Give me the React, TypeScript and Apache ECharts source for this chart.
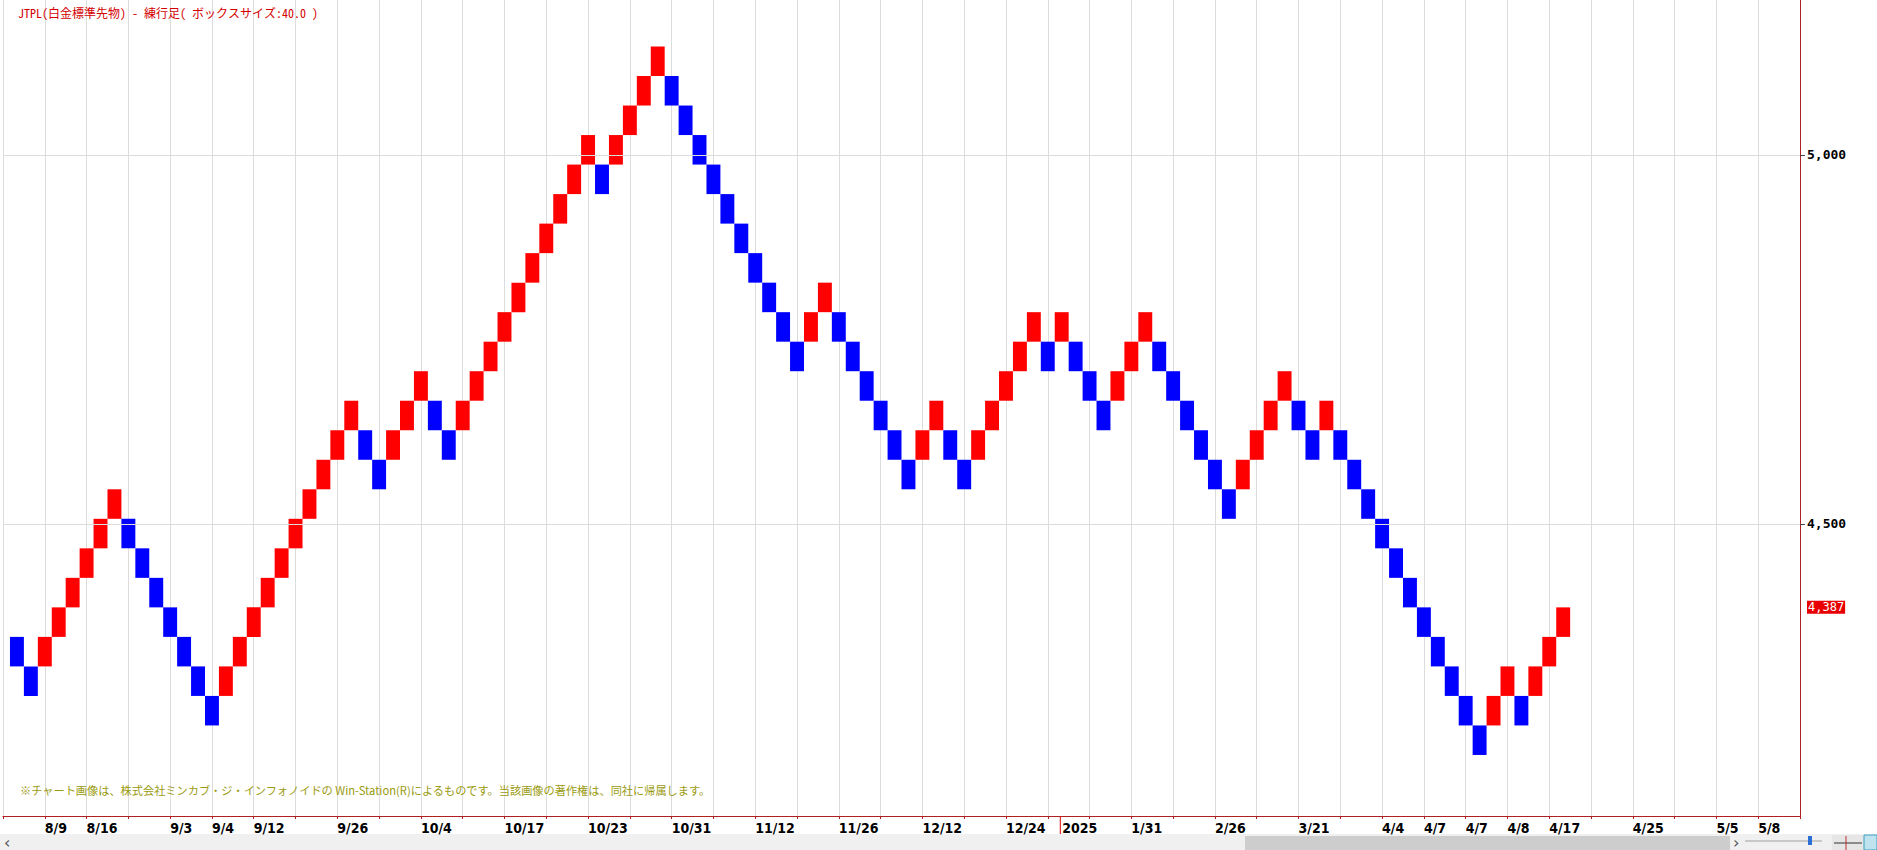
import React, { useEffect, useRef } from "react";
import * as echarts from "echarts";

// Renko bricks (box size 40), one per column
const brickOpens = [
  4347, 4307, 4307, 4347, 4387, 4427, 4467, 4507, 4507, 4467,
  4427, 4387, 4347, 4307, 4267, 4267, 4307, 4347, 4387, 4427,
  4467, 4507, 4547, 4587, 4627, 4627, 4587, 4587, 4627, 4667,
  4667, 4627, 4627, 4667, 4707, 4747, 4787, 4827, 4867, 4907,
  4947, 4987, 4987, 4987, 5027, 5067, 5107, 5107, 5067, 5027,
  4987, 4947, 4907, 4867, 4827, 4787, 4747, 4747, 4787, 4787,
  4747, 4707, 4667, 4627, 4587, 4587, 4627, 4627, 4587, 4587,
  4627, 4667, 4707, 4747, 4747, 4747, 4747, 4707, 4667, 4667,
  4707, 4747, 4747, 4707, 4667, 4627, 4587, 4547, 4547, 4587,
  4627, 4667, 4667, 4627, 4627, 4627, 4587, 4547, 4507, 4467,
  4427, 4387, 4347, 4307, 4267, 4227, 4227, 4267, 4267, 4267,
  4307, 4347,
];
const brickCloses = [
  4307, 4267, 4347, 4387, 4427, 4467, 4507, 4547, 4467, 4427,
  4387, 4347, 4307, 4267, 4227, 4307, 4347, 4387, 4427, 4467,
  4507, 4547, 4587, 4627, 4667, 4587, 4547, 4627, 4667, 4707,
  4627, 4587, 4667, 4707, 4747, 4787, 4827, 4867, 4907, 4947,
  4987, 5027, 4947, 5027, 5067, 5107, 5147, 5067, 5027, 4987,
  4947, 4907, 4867, 4827, 4787, 4747, 4707, 4787, 4827, 4747,
  4707, 4667, 4627, 4587, 4547, 4627, 4667, 4587, 4547, 4627,
  4667, 4707, 4747, 4787, 4707, 4787, 4707, 4667, 4627, 4707,
  4747, 4787, 4707, 4667, 4627, 4587, 4547, 4507, 4587, 4627,
  4667, 4707, 4627, 4587, 4667, 4587, 4547, 4507, 4467, 4427,
  4387, 4347, 4307, 4267, 4227, 4187, 4267, 4307, 4227, 4307,
  4347, 4387,
];

// x tick labels, one per grid tick (every 3 bricks, first tick at brick 2)
const xTickLabels = [
  "8/9", "8/16", "", "9/3", "9/4", "9/12", "", "9/26", "", "10/4",
  "", "10/17", "", "10/23", "", "10/31", "", "11/12", "", "11/26",
  "", "12/12", "", "12/24", "", "", "1/31", "", "2/26", "",
  "3/21", "", "4/4", "4/7", "4/7", "4/8", "4/17", "", "4/25", "",
  "5/5", "5/8",
];
const yearLabel = "2025";
const yearBrick = 74.9;
const yTickValues = [4500, 5000];

const TITLE = "JTPL(白金標準先物) - 練行足( ボックスサイズ:40.0 )";
const NOTE =
  "※チャート画像は、株式会社ミンカブ・ジ・インフォノイドの Win-Station(R)によるものです。当該画像の著作権は、同社に帰属します。";

const UP = "#ff0000";
const DOWN = "#0000ff";
const AXIS = "#b02020";
const GRID = "#dcdcdc";
const LABEL_FONT = "'DejaVu Sans Condensed', 'DejaVu Sans', sans-serif";
const MONO = "'DejaVu Sans Mono', monospace";
const JP_MONO = "'Noto Sans Mono CJK JP', 'Noto Sans CJK JP', monospace";

export default function App() {
  const ref = useRef<HTMLDivElement>(null);
  useEffect(() => {
    if (!ref.current) return;
    const chart = echarts.init(ref.current, undefined, { renderer: "svg" });
    const data = brickOpens.map((o, i) => [i, o, brickCloses[i]]);
    const last = brickCloses[brickCloses.length - 1];
    chart.setOption({
      animation: false,
      backgroundColor: "#ffffff",
      grid: { left: -6, right: 77, top: 0, bottom: 34, containLabel: false },
      xAxis: {
        type: "value",
        min: -1,
        max: 128,
        interval: 3,
        axisLine: { show: true, onZero: false, lineStyle: { color: AXIS, width: 1 } },
        axisTick: { show: true, length: 3, lineStyle: { color: AXIS } },
        splitLine: { show: true, lineStyle: { color: GRID, width: 1 } },
        axisLabel: {
          show: true,
          align: "left",
          margin: 5,
          fontFamily: LABEL_FONT,
          fontWeight: "bold",
          fontSize: 14,
          color: "#000",
          formatter: (v: number) => {
            const m = Math.round((v + 1) / 3);
            return xTickLabels[m - 1] ?? "";
          },
        },
      },
      yAxis: {
        type: "value",
        position: "right",
        min: 4104.3,
        max: 5210,
        axisLine: { show: true, onZero: false, lineStyle: { color: AXIS, width: 1 } },
        splitLine: { show: false },
        axisTick: {
          show: true,
          customValues: yTickValues,
          length: 5,
          lineStyle: { color: "#444" },
        },
        axisLabel: {
          show: true,
          customValues: yTickValues,
          margin: 7,
          fontFamily: MONO,
          fontWeight: "bold",
          fontSize: 13,
          color: "#000",
          formatter: (v: number) => v.toLocaleString("en-US"),
        },
      },
      series: [
        {
          type: "custom",
          data,
          encode: { x: 0, y: [1, 2] },
          renderItem: (params: any, api: any) => {
            const i = api.value(0);
            const o = api.value(1);
            const c = api.value(2);
            const p1 = api.coord([i - 0.5, Math.max(o, c)]);
            const p2 = api.coord([i + 0.5, Math.min(o, c)]);
            return {
              type: "rect",
              shape: { x: p1[0], y: p1[1], width: p2[0] - p1[0], height: p2[1] - p1[1] },
              style: { fill: c > o ? UP : DOWN },
            };
          },
          markLine: {
            silent: true,
            symbol: ["none", "none"],
            animation: false,
            data: [
              ...yTickValues.map((v) => ({
                yAxis: v,
                lineStyle: { color: GRID, width: 1, type: "solid" },
                label: { show: false },
              })),
              {
                yAxis: last,
                lineStyle: { color: "rgba(0,0,0,0)", width: 1, type: "solid" },
                label: {
                  show: true,
                  position: "end",
                  distance: 7,
                  formatter: last.toLocaleString("en-US"),
                  color: "#ffffff",
                  backgroundColor: "#e80000",
                  fontFamily: MONO,
                  fontSize: 12,
                  padding: [1, 1, 0, 1],
                },
              },
            ],
          },
        },
      ],
    });

    const yx = chart.convertToPixel({ xAxisIndex: 0 }, yearBrick) as number;
    const axisY = 816;
    chart.setOption({
      graphic: [
        {
          type: "text",
          left: 18,
          top: 6,
          style: {
            text: TITLE,
            fill: "#d40000",
            fontSize: 12,
            fontFamily: JP_MONO,
          },
        },
        {
          type: "text",
          left: 20,
          top: 784,
          style: {
            text: NOTE,
            fill: "#9a9a10",
            fontSize: 11.2,
            fontFamily: "'Noto Sans CJK JP', sans-serif",
          },
        },
        {
          type: "line",
          shape: { x1: yx, y1: axisY, x2: yx, y2: 834 },
          style: { stroke: "#e00000", lineWidth: 1 },
        },
        {
          type: "text",
          x: yx + 2,
          y: axisY + 5,
          style: {
            text: yearLabel,
            fill: "#000",
            fontSize: 14,
            fontWeight: "bold",
            fontFamily: LABEL_FONT,
          },
        },
        // scroll bar strip
        { type: "rect", shape: { x: 0, y: 834, width: 1877, height: 16 }, style: { fill: "#f0f0f0" } },
        { type: "rect", shape: { x: 1245, y: 836, width: 485, height: 14 }, style: { fill: "#cdcdcd" } },
        { type: "text", x: 4, y: 834, style: { text: "‹", fill: "#555", fontSize: 16, fontFamily: "DejaVu Sans" } },
        { type: "text", x: 1733, y: 834, style: { text: "›", fill: "#555", fontSize: 16, fontFamily: "DejaVu Sans" } },
        { type: "line", shape: { x1: 1745, y1: 841, x2: 1822, y2: 841 }, style: { stroke: "#a0a0a0", lineWidth: 1 } },
        { type: "rect", shape: { x: 1808, y: 836, width: 4, height: 9 }, style: { fill: "#2a6fd6" } },
        { type: "rect", shape: { x: 1832, y: 835, width: 45, height: 15 }, style: { fill: "#e6e6e6" } },
        { type: "line", shape: { x1: 1834, y1: 843, x2: 1862, y2: 843 }, style: { stroke: "#333", lineWidth: 1 } },
        { type: "line", shape: { x1: 1846, y1: 836, x2: 1846, y2: 850 }, style: { stroke: "#c03030", lineWidth: 1 } },
        { type: "rect", shape: { x: 1864, y: 835, width: 13, height: 15 }, style: { fill: "#bfe3ee", stroke: "#3aa0c0" } },
      ],
    });
    return () => chart.dispose();
  }, []);
  return (
    <div
      ref={ref}
      style={{ position: "fixed", left: 0, top: 0, width: 1877, height: 850, background: "#fff" }}
    />
  );
}
